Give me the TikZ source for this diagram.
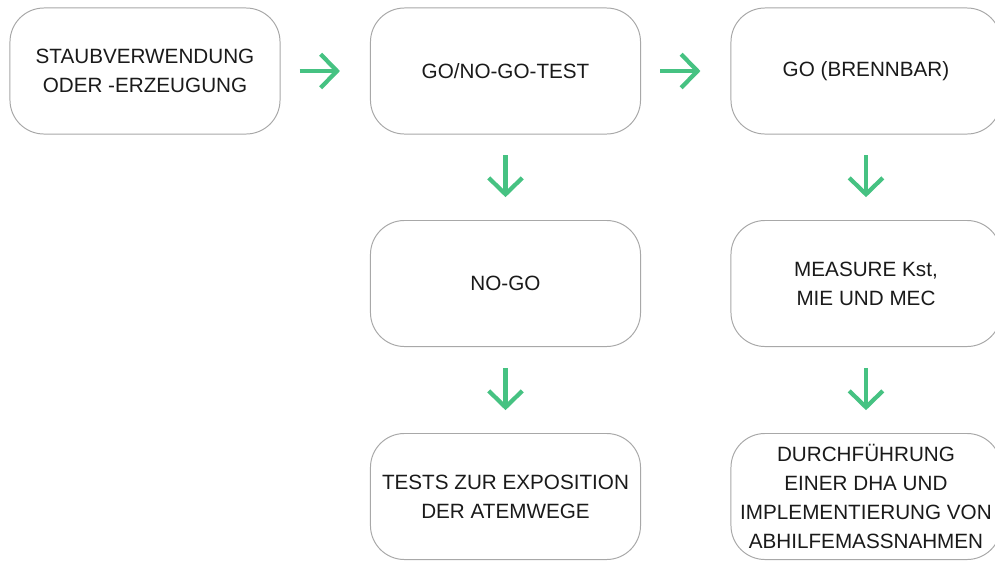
\documentclass[tikz,border=0pt]{standalone}
\usepackage{fontspec}
\setmainfont{Liberation Sans}
\usetikzlibrary{arrows.meta, positioning}
\definecolor{arrowgreen}{HTML}{46C282}
\definecolor{boxgray}{HTML}{A8A8A8}
\definecolor{textdark}{HTML}{1A1A1A}
\tikzstyle{box} = [draw=boxgray, line width=0.7pt, rounded corners=0.85cm,
	minimum width=6.75cm, minimum height=3.15cm, align=center,
	text=textdark, font=\fontsize{14.7}{20.5}\selectfont]
\tikzstyle{arrow} = [draw=arrowgreen, line width=3pt,
	-{Straight Barb[length=4.1mm, width=8.4mm]}]

\begin{document}
\begin{tikzpicture}[x=0.025cm, y=-0.025cm]
	\useasboundingbox (0,0) rectangle (995,562);
	% first row
	\node[box] (staub) at (145,71) {STAUBVERWENDUNG\\ODER -ERZEUGUNG};
	\node[box] (test) at (505.5,71) {GO/NO-GO-TEST};
	\node[box] (go) at (866,71) {GO (BRENNBAR)};
	% second row
	\node[box] (nogo) at (505.5,283.5) {NO-GO};
	\node[box] (measure) at (866,283.5) {MEASURE Kst,\\MIE UND MEC};
	% third row
	\node[box] (exposition) at (505.5,496.5) {TESTS ZUR EXPOSITION\\DER ATEMWEGE};
	\node[box] (dha) at (866,496.5) {DURCHFÜHRUNG\\EINER DHA UND\\IMPLEMENTIERUNG VON\\ABHILFEMASSNAHMEN};

	\draw[arrow, shorten <=0.48cm, shorten >=0.75cm] (staub) -- (test);
	\draw[arrow, shorten <=0.48cm, shorten >=0.75cm] (test) -- (go);
	\draw[arrow, shorten <=0.52cm, shorten >=0.57cm] (test) -- (nogo);
	\draw[arrow, shorten <=0.52cm, shorten >=0.57cm] (nogo) -- (exposition);
	\draw[arrow, shorten <=0.52cm, shorten >=0.57cm] (go) -- (measure);
	\draw[arrow, shorten <=0.52cm, shorten >=0.57cm] (measure) -- (dha);
\end{tikzpicture}
\end{document}
